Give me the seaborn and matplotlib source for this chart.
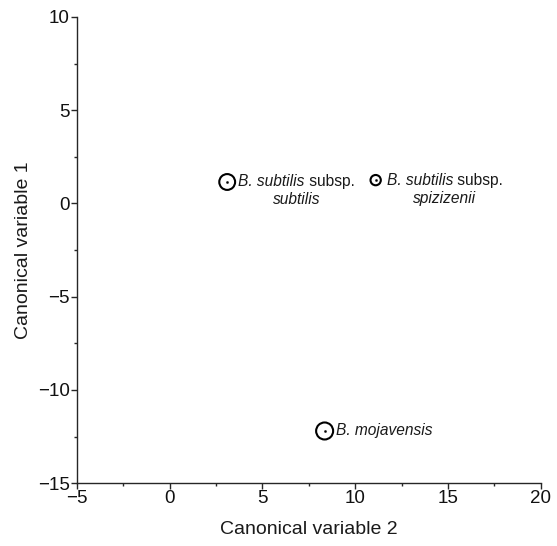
import pandas as pd
import matplotlib.pyplot as plt
import seaborn as sns
from matplotlib.ticker import MultipleLocator

# group centroids (canonical variable 2, canonical variable 1)
groups = ["B. subtilis subsp. subtilis", "B. subtilis subsp. spizizenii", "B. mojavensis"]
cv2 = [3.1, 11.1, 8.35]
cv1 = [1.15, 1.25, -12.2]
species = ["B. subtilis", "B. subtilis", "B. mojavensis"]
subspecies = ["subtilis", "spizizenii", None]

df = pd.DataFrame({"group": groups, "cv2": cv2, "cv1": cv1})

sns.set_style("ticks")
plt.rcParams["font.family"] = ["Liberation Sans", "DejaVu Sans"]

fig = plt.figure(figsize=(5.57, 5.46), dpi=100)
ax = fig.add_axes([0.138, 0.115, 0.833, 0.854])

ring_sizes = [130, 55, 150]
for i, row in df.iterrows():
    sns.scatterplot(x=[row.cv2], y=[row.cv1], ax=ax, s=ring_sizes[i], marker="o",
                    facecolor="none", edgecolor="black", linewidth=1.5, legend=False)
sns.scatterplot(data=df, x="cv2", y="cv1", ax=ax, s=3, color="black",
                edgecolor="black", legend=False)

tc = "#1a1a1a"
fs = 11.2

ax.set_xlim(-5, 20)
ax.set_ylim(-15, 10)
ax.xaxis.set_major_locator(MultipleLocator(5))
ax.xaxis.set_minor_locator(MultipleLocator(2.5))
ax.yaxis.set_major_locator(MultipleLocator(5))
ax.yaxis.set_minor_locator(MultipleLocator(2.5))
ax.tick_params(which="major", length=4, width=1, labelsize=13.5, pad=1, labelcolor="#111111")
ax.tick_params(which="minor", length=2.5, width=1)
ax.set_yticklabels([f"{v:g}".replace("-", "\u2212") for v in ax.get_yticks()])
ax.set_xticklabels([f"{v:g}".replace("-", "\u2212") for v in ax.get_xticks()])
ax.set_xlabel("Canonical variable 2", fontsize=14, labelpad=10, color=tc)
ax.set_ylabel("Canonical variable 1", fontsize=14, labelpad=4, color=tc)
sns.despine(ax=ax)
for sp in ax.spines.values():
    sp.set_linewidth(1)

# labels: italic species name + roman "subsp." + italic subspecies below
pending = []
for i in range(len(groups)):
    t1 = ax.annotate(species[i], (cv2[i], cv1[i]), xytext=(8, 0), textcoords="offset points",
                     ha="left", va="center", fontsize=fs, style="italic", color=tc)
    if subspecies[i]:
        t2 = ax.annotate(" subsp.", xy=(1, 0), xycoords=t1, ha="left", va="bottom",
                         fontsize=fs, color=tc)
        pending.append((t1, t2, subspecies[i]))

fig.canvas.draw()
inv = ax.transData.inverted()
for t1, t2, sub in pending:
    b1 = t1.get_window_extent()
    b2 = t2.get_window_extent()
    cx, cy = inv.transform(((b1.x0 + b2.x1) / 2, b1.y0 - 3))
    ax.text(cx, cy, sub, ha="center", va="top", fontsize=fs, style="italic", color=tc)

fig.savefig("out.png", dpi=100)
